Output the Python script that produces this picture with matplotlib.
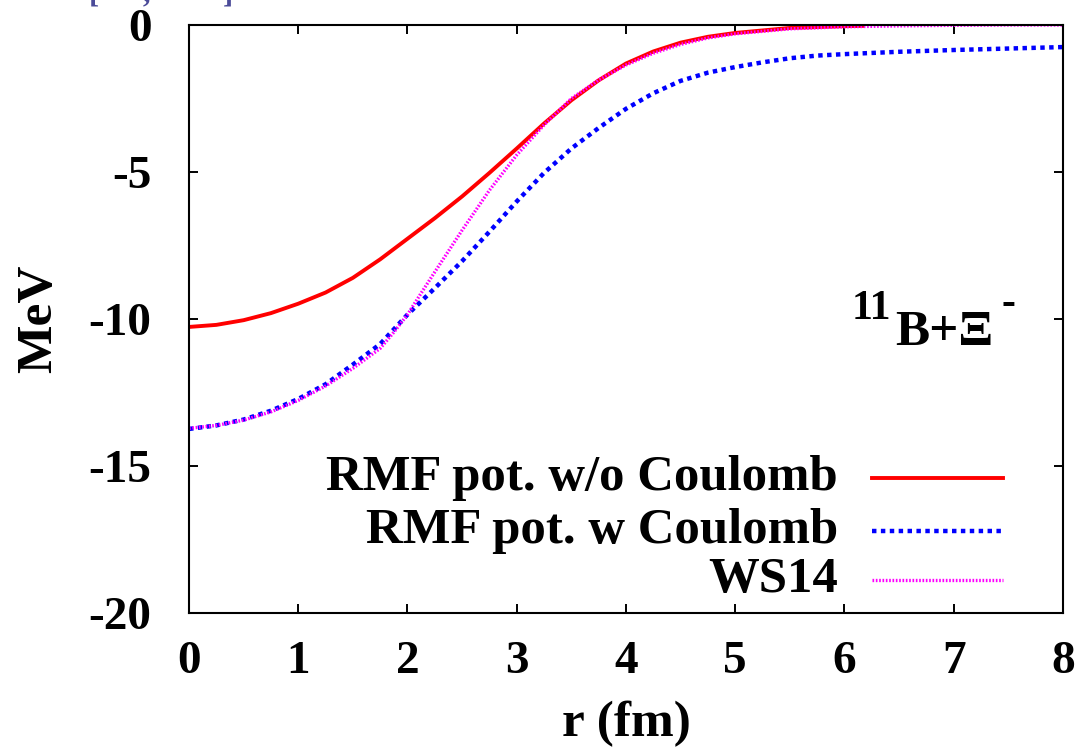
import matplotlib
matplotlib.use("Agg")
import matplotlib.pyplot as plt
from matplotlib.lines import Line2D

plt.rcParams['font.family'] = ['Liberation Serif', 'DejaVu Serif']
plt.rcParams['font.weight'] = 'bold'

# r in fm, potentials in MeV
r_nocoul = [0.0, 0.25, 0.5, 0.75, 1.0, 1.25, 1.5, 1.75, 2.0, 2.25, 2.5, 2.75,
            3.0, 3.25, 3.5, 3.75, 4.0, 4.25, 4.5, 4.75, 5.0, 5.5, 6.0, 6.17]
v_nocoul = [-10.27, -10.2, -10.04, -9.8, -9.48, -9.1, -8.6, -7.97, -7.27, -6.57,
            -5.83, -5.03, -4.2, -3.35, -2.56, -1.88, -1.31, -0.9, -0.6, -0.4,
            -0.27, -0.1, -0.04, -0.03]

r_coul = [0.0, 0.25, 0.5, 0.75, 1.0, 1.25, 1.5, 1.75, 2.0, 2.25, 2.5, 2.75,
          3.0, 3.25, 3.5, 3.75, 4.0, 4.25, 4.5, 4.75, 5.0, 5.25, 5.5, 5.75,
          6.0, 6.5, 7.0, 7.5, 8.0]
v_coul = [-13.74, -13.62, -13.42, -13.12, -12.72, -12.22, -11.55, -10.85, -9.85,
          -8.95, -8.03, -7.03, -6.0, -5.03, -4.2, -3.5, -2.85, -2.32, -1.9, -1.62,
          -1.43, -1.27, -1.13, -1.04, -0.99, -0.91, -0.85, -0.8, -0.75]

r_ws = [0.0, 0.25, 0.5, 0.75, 1.0, 1.25, 1.5, 1.75, 1.875, 2.0, 2.125, 2.25,
        2.5, 2.75, 3.0, 3.25, 3.5, 3.75, 4.0, 4.25, 4.5, 4.75, 5.0, 5.5,
        6.0, 6.5, 7.0, 7.5, 8.0]
v_ws = [-13.72, -13.62, -13.44, -13.16, -12.77, -12.28, -11.68, -11.0, -10.45,
        -9.85, -9.12, -8.4, -6.98, -5.62, -4.42, -3.4, -2.5, -1.87, -1.36,
        -0.96, -0.66, -0.44, -0.3, -0.13, -0.06, -0.03, -0.01, 0.0, 0.0]

labels = ['RMF pot. w/o Coulomb', 'RMF pot. w Coulomb', 'WS14']
colors = ['#ff0000', '#0000ff', '#ff00ff']

fig = plt.figure(figsize=(10.85, 7.49), dpi=100)
ax = fig.add_axes([0.1742, 0.1816, 0.8055, 0.785])

styles = [dict(lw=2.8, ls='-'),
          dict(lw=3.2, ls=(0, (1, 1)), dash_capstyle='butt'),
          dict(lw=2.4, ls=(0, (0.5, 0.5)), dash_capstyle='butt')]

series = [(r_nocoul, v_nocoul), (r_coul, v_coul), (r_ws, v_ws)]
for (r, v), c, st in zip(series, colors, styles):
    ax.plot(r, v, color=c, **st)

ax.set_xlim(0, 8)
ax.set_ylim(-20, 0)
ax.set_xticks(range(0, 9))
ax.set_yticks([0, -5, -10, -15, -20])
ax.set_yticklabels(['0', '-5', '-10', '-15', '-20'])
ax.tick_params(direction='in', length=6.5, width=1.4, top=True, right=True,
               labelsize=34)
ax.tick_params(axis='x', pad=20)
ax.tick_params(axis='y', pad=27)
for s in ax.spines.values():
    s.set_linewidth(1.5)

ax.set_xlabel('r (fm)', fontsize=37, fontweight='bold', labelpad=13)
ax.set_ylabel('MeV', fontsize=37, fontweight='bold', labelpad=19)

# key: right-justified text followed by the line sample
key_y = [0.2296, 0.1395, 0.0561]
for lab, c, st, yk in zip(labels, colors, styles, key_y):
    ax.text(0.7426, yk, lab, transform=ax.transAxes, ha='right', va='center',
            fontsize=36.5, fontweight='bold')
    ax.add_line(Line2D([0.7815, 0.9314], [yk, yk], transform=ax.transAxes,
                       color=c, **st))

# nucleus label
main = ax.text(0.808, 0.456, 'B+Ξ', transform=ax.transAxes, ha='left',
               va='baseline', fontsize=37, fontweight='bold')
ax.annotate('11', xy=(0, 0.6), xycoords=main, ha='right', va='bottom',
            fontsize=30, fontweight='bold', xytext=(-3, 0),
            textcoords='offset points')
ax.annotate('-', xy=(1, 0.72), xycoords=main, ha='left', va='bottom',
            fontsize=30, fontweight='bold', xytext=(6, 0),
            textcoords='offset points')

for xf, ch in [(0.082, '['), (0.131, ','), (0.205, ']')]:
    fig.text(xf, 1.0 - 1 / 749, ch, color='#4b4b99', fontsize=22,
             ha='left', va='baseline')

fig.savefig('out.png', dpi=100)
